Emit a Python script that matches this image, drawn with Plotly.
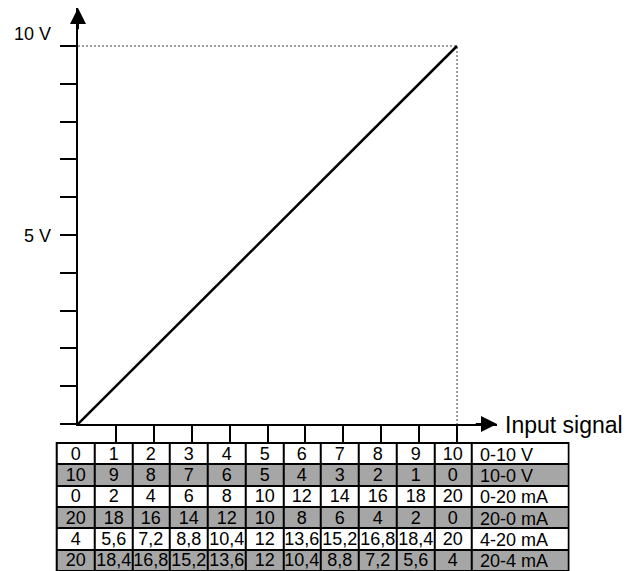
import plotly.graph_objects as go

# ---- data ----
input_x = [0, 10]
output_v = [0, 10]
guide_x = [0, 10, 10]
guide_y = [10, 10, 0]
ytick_vals = list(range(0, 11))
xtick_vals = list(range(1, 11))
ylabel_vals = [5, 10]
ylabel_text = ["5 V", "10 V"]

row_0_10V = ["0", "1", "2", "3", "4", "5", "6", "7", "8", "9", "10"]
row_10_0V = ["10", "9", "8", "7", "6", "5", "4", "3", "2", "1", "0"]
row_0_20mA = ["0", "2", "4", "6", "8", "10", "12", "14", "16", "18", "20"]
row_20_0mA = ["20", "18", "16", "14", "12", "10", "8", "6", "4", "2", "0"]
row_4_20mA = ["4", "5,6", "7,2", "8,8", "10,4", "12", "13,6", "15,2", "16,8", "18,4", "20"]
row_20_4mA = ["20", "18,4", "16,8", "15,2", "13,6", "12", "10,4", "8,8", "7,2", "5,6", "4"]
row_labels = ["0-10 V", "10-0 V", "0-20 mA", "20-0 mA", "4-20 mA", "20-4 mA"]

# the page body has an 8px margin: the figure starts at (8, 8) in the window
OFF = 8
W, H = 640 - OFF, 571 - OFF
FONT = "Arial, Liberation Sans, sans-serif"
GRAY = "#a6a6a6"


def px(x):
    return min(max((x - OFF) / W, 0), 1)


def py(y):
    return min(max(1 - (y - OFF) / H, 0), 1)


# window-pixel layout of the chart
x0_px, xtip_px, x10_px = 78, 497, 457
y0_px, ytip_px, y10_px = 424, 8, 46
xs = (x10_px - x0_px) / 10.0
ys = (y0_px - y10_px) / 10.0
xmax = (xtip_px - x0_px) / xs
ymax = (y0_px - ytip_px) / ys

# window-pixel layout of the table
tbl_left, tbl_top, tbl_bottom = 56.7, 443.0, 571.4
col_px = 37.75
label_px = 96.5

fig = go.Figure()

fig.add_trace(go.Scatter(x=guide_x, y=guide_y, mode="lines",
                         line=dict(color="#808080", width=1.5, dash="2px,2px"),
                         hoverinfo="skip", showlegend=False, cliponaxis=False))
fig.add_trace(go.Scatter(x=input_x, y=output_v, mode="lines",
                         line=dict(color="black", width=2.5),
                         showlegend=False, cliponaxis=False))

# ---- table as a heatmap of cells ----
rows = [row_0_10V, row_10_0V, row_0_20mA, row_20_0mA, row_4_20mA, row_20_4mA]
nval = len(row_0_10V)
nrows = len(rows)
label_units = label_px / col_px
x_edges = [i - 0.5 for i in range(nval + 1)] + [nval - 0.5 + label_units]
y_idx = list(range(nrows))
z = [[r % 2] * (nval + 1) for r in range(nrows)]
cell_text = [row + [""] for row in rows]

tbl_right = tbl_left + nval * col_px + label_px
fig.add_shape(type="rect", xref="paper", yref="paper",
              x0=px(tbl_left - 1), x1=px(tbl_right + 1),
              y0=py(tbl_bottom + 1), y1=py(tbl_top - 1),
              fillcolor="black", line=dict(width=0), layer="below")

fig.add_trace(go.Heatmap(
    x=x_edges, y=y_idx, z=z, text=cell_text, texttemplate="%{text}",
    textfont=dict(family=FONT, size=18, color="black"),
    colorscale=[[0, "white"], [1, GRAY]], zmin=0, zmax=1, showscale=False,
    xgap=2, ygap=2, hoverinfo="skip", xaxis="x2", yaxis="y2",
))

ann = []
for r, lab in enumerate(row_labels):
    ann.append(dict(x=nval - 0.5, xref="x2", y=r, yref="y2", xanchor="left",
                    xshift=6, yanchor="middle", yshift=-1, text=lab, showarrow=False,
                    font=dict(family=FONT, size=18, color="black")))
for v, t in zip(ylabel_vals, ylabel_text):
    ann.append(dict(x=px(53), xref="paper", xanchor="right", y=v, yref="y",
                    yanchor="middle", yshift=12 if v == 10 else -1, text=t,
                    showarrow=False, font=dict(family=FONT, size=18, color="black")))
ann.append(dict(x=px(503), xref="paper", xanchor="left", y=0, yref="y",
                yanchor="middle", yshift=-1, text="Input signal", showarrow=False,
                font=dict(family=FONT, size=23, color="black")))
# arrowheads
ann.append(dict(x=xmax, y=0, xref="x", yref="y", ax=xmax - 0.6, ay=0, axref="x", ayref="y",
                text="", showarrow=True, arrowhead=2, arrowsize=1.6, arrowwidth=2,
                arrowcolor="black"))
ann.append(dict(x=0, y=ymax, xref="x", yref="y", ax=0, ay=ymax - 0.6, axref="x", ayref="y",
                text="", showarrow=True, arrowhead=2, arrowsize=1.6, arrowwidth=2,
                arrowcolor="black"))

fig.update_layout(
    width=W, height=H, margin=dict(l=0, r=0, t=0, b=0),
    paper_bgcolor="white", plot_bgcolor="white",
    font=dict(family=FONT, size=18, color="black"),
    annotations=ann,
    xaxis=dict(domain=[px(x0_px), px(xtip_px)], range=[0, xmax], showgrid=False,
               zeroline=False, showline=True, linecolor="black", linewidth=2,
               ticks="outside", tickvals=xtick_vals, ticklen=17, tickwidth=2,
               tickcolor="black", showticklabels=False, fixedrange=True),
    yaxis=dict(domain=[py(y0_px), py(ytip_px)], range=[0, ymax], showgrid=False,
               zeroline=False, showline=True, linecolor="black", linewidth=2,
               ticks="outside", tickvals=ytick_vals, ticklen=16, tickwidth=2,
               tickcolor="black", showticklabels=False, fixedrange=True),
    xaxis2=dict(domain=[px(tbl_left), px(tbl_right)], range=[x_edges[0], x_edges[-1]],
                anchor="y2", visible=False, fixedrange=True),
    yaxis2=dict(domain=[py(tbl_bottom), py(tbl_top)],
                range=[nrows - 0.5 + (tbl_bottom - 571) / ((tbl_bottom - tbl_top) / nrows) * 0, -0.5],
                anchor="x2", visible=False, fixedrange=True),
)

fig.write_html("out.html")
